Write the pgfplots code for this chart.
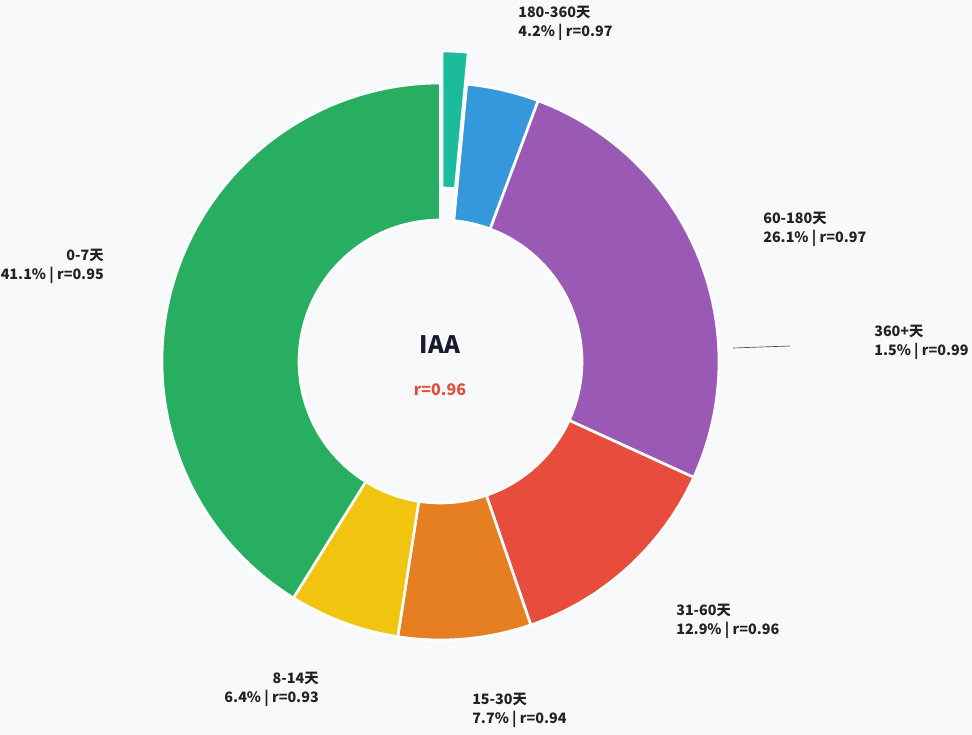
\documentclass[border=0pt]{standalone}
\usepackage{pgfplots}
\pgfplotsset{compat=1.18}
\usepackage{pgfplotstable}
\usepackage{fontspec}
\setmainfont{Noto Sans CJK SC}

\definecolor{bg}{HTML}{F8F9FB}
\definecolor{cTeal}{HTML}{1ABC9C}
\definecolor{cBlue}{HTML}{3498DB}
\definecolor{cPurple}{HTML}{9B59B6}
\definecolor{cRed}{HTML}{E74C3C}
\definecolor{cOrange}{HTML}{E67E22}
\definecolor{cYellow}{HTML}{F1C40F}
\definecolor{cGreen}{HTML}{27AE60}
\definecolor{txt}{HTML}{222222}
\definecolor{title}{HTML}{1A1A2E}

% shares of each age bucket (percent), clockwise from 12 o'clock
\pgfplotstableread{
pct
1.5
4.2
26.1
12.9
7.7
6.4
41.1
}\shares

\newcommand{\lab}{\fontsize{10.75}{14.25}\selectfont\bfseries\color{txt}}

\begin{document}
\begin{tikzpicture}
\begin{axis}[
  x=0.75pt, y=0.75pt,
  xmin=0, xmax=972, ymin=0, ymax=735,
  hide axis, clip=false,
]
\pgfplotsextra{
  \fill[bg] (axis cs:0,0) rectangle (axis cs:972,735);
  \def\cx{440.5}\def\cy{373.5}\def\Ro{278.5}\def\Ri{141.5}
  % total of all shares
  \gdef\total{0}
  \pgfplotstableforeachcolumnelement{pct}\of\shares\as\v{%
    \pgfmathsetmacro\t{\total+\v}\xdef\total{\t}}
  \gdef\ang{90}
  \foreach \i/\c in {0/cTeal,1/cBlue,2/cPurple,3/cRed,4/cOrange,5/cYellow,6/cGreen}{
    \pgfplotstablegetelem{\i}{pct}\of\shares
    \pgfmathsetmacro\sw{\pgfplotsretval/\total*360}
    \pgfmathsetmacro\a{\ang}
    \pgfmathsetmacro\b{\ang-\sw}
    \pgfmathsetmacro\m{(\a+\b)/2}
    \ifnum\i=0 \def\off{32}\else\def\off{0}\fi
    \pgfmathsetmacro\ox{\cx+\off*cos(\m)}
    \pgfmathsetmacro\oy{\cy+\off*sin(\m)}
    \fill[\c, draw=white, line width=2pt, line join=round]
      (axis cs:{\ox+\Ro*cos(\a)},{\oy+\Ro*sin(\a)})
      arc[start angle=\a, end angle=\b, radius=\Ro*0.75pt]
      -- (axis cs:{\ox+\Ri*cos(\b)},{\oy+\Ri*sin(\b)})
      arc[start angle=\b, end angle=\a, radius=\Ri*0.75pt] -- cycle;
    \xdef\ang{\b}
  }
  % centre text
  \node[font=\fontsize{18}{20}\selectfont\bfseries, text=title] at (axis cs:440,390) {IAA};
  \node[font=\fontsize{12}{14}\selectfont\bfseries, text=cRed] at (axis cs:440,345) {r=0.96};
  % leader line
  \draw[black!70, line width=0.5pt] (axis cs:733,387) -- (axis cs:790,389);
  % slice labels
  \node[anchor=west, align=left, inner sep=0pt, font=\lab] at (axis cs:518,712) {180-360天\\4.2\% | r=0.97};
  \node[anchor=west, align=left, inner sep=0pt, font=\lab] at (axis cs:763,505.5) {60-180天\\26.1\% | r=0.97};
  \node[anchor=west, align=left, inner sep=0pt, font=\lab] at (axis cs:874,392.5) {360+天\\1.5\% | r=0.99};
  \node[anchor=west, align=left, inner sep=0pt, font=\lab] at (axis cs:676,113.5) {31-60天\\12.9\% | r=0.96};
  \node[anchor=west, align=left, inner sep=0pt, font=\lab] at (axis cs:472,24.5) {15-30天\\7.7\% | r=0.94};
  \node[anchor=east, align=right, inner sep=0pt, font=\lab] at (axis cs:319,45.5) {8-14天\\6.4\% | r=0.93};
  \node[anchor=east, align=right, inner sep=0pt, font=\lab] at (axis cs:104,468.5) {0-7天\\41.1\% | r=0.95};
}
\end{axis}
\end{tikzpicture}
\end{document}
